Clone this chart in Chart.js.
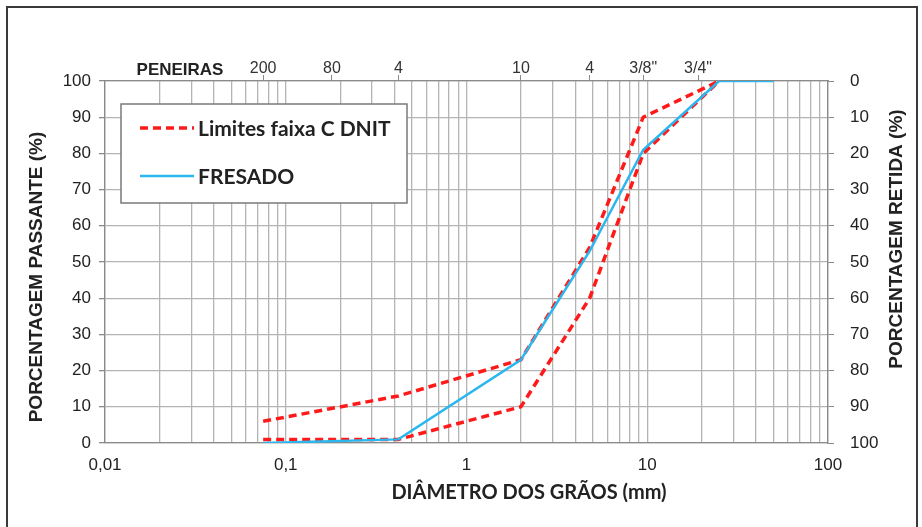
<!DOCTYPE html>
<html>
<head>
<meta charset="utf-8">
<script src="https://cdn.jsdelivr.net/npm/chart.js@4/dist/chart.umd.min.js"></script>
<style>
  html, body { margin: 0; padding: 0; background: #fff; }
  canvas { display: block; }
</style>
</head>
<body>
<canvas id="curva" width="922" height="527"></canvas>
<script>
// Peneiras (topo)
const sieveSizes = [0.075, 0.18, 0.42, 2.0, 4.8, 9.5, 19.1];
const sieveLabels = ['200', '80', '4', '10', '4', '3/8"', '3/4"'];

// Eixo x (log) - linhas de grade e rótulos
const gridValues = [
    0.01, 0.02, 0.03, 0.04, 0.05, 0.06, 0.07, 0.08, 0.09,
    0.1, 0.2, 0.3, 0.4, 0.5, 0.6, 0.7, 0.8, 0.9,
    1, 2, 3, 4, 5, 6, 7, 8, 9,
    10, 20, 30, 40, 50, 60, 70, 80, 90, 100
];
const decadeValues = [0.01, 0.1, 1, 10, 100];
const decadeLabels = ['0,01', '0,1', '1', '10', '100'];

// Limites faixa C DNIT
const limitX = [0.075, 0.42, 2.0, 4.8, 9.5, 25];
const limitUpper = [6, 13, 23, 54, 90, 100];
const limitLower = [1, 1, 10, 40, 80, 100];

// FRESADO
const fresadoX = [0.075, 0.42, 2.0, 4.8, 9.5, 25, 50];
const fresadoY = [0, 1, 23, 53, 81, 100, 100];

const RED = '#ff1a1a';
const BLUE = '#2bb7ee';
const GRID = '#b4b4b4';
const AXIS = '#8a8a8a';
const TEXT = '#222';
const ARIAL = '"Liberation Sans", Arial, sans-serif';

function toPoints(xs, ys) {
    return xs.map((x, i) => ({ x: x, y: ys[i] }));
}

// Fundo, moldura, títulos e legenda
const decorPlugin = {
    id: 'decor',
    beforeDraw(chart) {
        const ctx = chart.ctx;
        ctx.save();
        ctx.fillStyle = '#fff';
        ctx.fillRect(0, 0, chart.width, chart.height);
        ctx.strokeStyle = '#3a3a3a';
        ctx.lineWidth = 2;
        ctx.strokeRect(7, 7, 910, 540);
        ctx.restore();
    },
    afterDraw(chart) {
        const ctx = chart.ctx;
        ctx.save();
        ctx.fillStyle = TEXT;
        ctx.textAlign = 'center';
        ctx.textBaseline = 'middle';

        // PENEIRAS
        ctx.font = 'bold 17px ' + ARIAL;
        ctx.fillText('PENEIRAS', 180, 70);

        // título eixo x
        ctx.font = 'bold 20px Lato, sans-serif';
        ctx.fillText('DIÂMETRO DOS GRÃOS (mm)', 529, 493);

        // títulos eixos y
        ctx.font = 'bold 19px ' + ARIAL;
        ctx.save();
        ctx.translate(37, 277);
        ctx.rotate(-Math.PI / 2);
        ctx.fillText('PORCENTAGEM PASSANTE (%)', 0, 0);
        ctx.restore();
        ctx.save();
        ctx.translate(897, 239);
        ctx.rotate(-Math.PI / 2);
        ctx.fillText('PORCENTAGEM RETIDA (%)', 0, 0);
        ctx.restore();

        // legenda
        const bx = 121, by = 104, bw = 286, bh = 99;
        ctx.fillStyle = '#fff';
        ctx.fillRect(bx, by, bw, bh);
        ctx.strokeStyle = '#7a7a7a';
        ctx.lineWidth = 1.5;
        ctx.strokeRect(bx, by, bw, bh);

        const items = [chart.data.datasets[0], chart.data.datasets[2]];
        const rows = [128, 176];
        items.forEach((ds, i) => {
            ctx.beginPath();
            ctx.strokeStyle = ds.borderColor;
            ctx.lineWidth = ds.borderWidth;
            ctx.setLineDash(ds.borderDash || []);
            ctx.moveTo(140, rows[i]);
            ctx.lineTo(194, rows[i]);
            ctx.stroke();
            ctx.setLineDash([]);
            ctx.fillStyle = TEXT;
            ctx.textAlign = 'left';
            ctx.font = 'bold 21px Lato, sans-serif';
            ctx.fillText(ds.label, 198, rows[i] + 1);
        });
        ctx.restore();
    }
};

const ctx = document.getElementById('curva').getContext('2d');
new Chart(ctx, {
    type: 'scatter',
    data: {
        datasets: [{
            label: 'Limites faixa C DNIT',
            data: toPoints(limitX, limitUpper),
            showLine: true,
            borderColor: RED,
            borderWidth: 3.5,
            borderDash: [8, 5],
            pointRadius: 0,
            order: 1
        }, {
            label: 'Limites faixa C DNIT',
            data: toPoints(limitX, limitLower),
            showLine: true,
            borderColor: RED,
            borderWidth: 3.5,
            borderDash: [8, 5],
            pointRadius: 0,
            order: 1
        }, {
            label: 'FRESADO',
            data: toPoints(fresadoX, fresadoY),
            showLine: true,
            borderColor: BLUE,
            borderWidth: 2.5,
            pointRadius: 0,
            order: 0
        }]
    },
    options: {
        responsive: false,
        animation: false,
        layout: { padding: 0 },
        plugins: {
            legend: { display: false },
            tooltip: { enabled: false }
        },
        scales: {
            x: {
                type: 'logarithmic',
                position: 'bottom',
                min: 0.01,
                max: 100,
                afterBuildTicks: scale => {
                    scale.ticks = gridValues.map(v => ({ value: v }));
                },
                afterFit: scale => { scale.height = 84; },
                grid: { color: GRID, lineWidth: 1.3, drawTicks: false },
                border: { color: AXIS, width: 1.3 },
                ticks: {
                    autoSkip: false,
                    maxRotation: 0,
                    padding: 12,
                    color: TEXT,
                    font: { family: ARIAL, size: 17 },
                    callback: value => {
                        const i = decadeValues.indexOf(value);
                        return i >= 0 ? decadeLabels[i] : '';
                    }
                }
            },
            x2: {
                type: 'logarithmic',
                position: 'top',
                min: 0.01,
                max: 100,
                afterBuildTicks: scale => {
                    scale.ticks = sieveSizes.map(v => ({ value: v }));
                },
                afterFit: scale => { scale.height = 81; },
                grid: { drawOnChartArea: false, tickLength: 6, color: AXIS },
                border: { color: AXIS, width: 1.3 },
                ticks: {
                    autoSkip: false,
                    maxRotation: 0,
                    padding: -3,
                    color: '#333',
                    font: { family: ARIAL, size: 16 },
                    callback: (value, index) => sieveLabels[index]
                }
            },
            y: {
                position: 'left',
                min: 0,
                max: 100,
                afterFit: scale => { scale.width = 105; },
                grid: {
                    color: c => (c.tick && c.tick.value % 10 === 0) ? GRID : 'rgba(0,0,0,0)',
                    lineWidth: 1.3,
                    tickColor: AXIS,
                    tickLength: 6
                },
                border: { color: AXIS, width: 1.3 },
                ticks: {
                    stepSize: 5,
                    padding: 8,
                    color: TEXT,
                    font: { family: ARIAL, size: 17 },
                    callback: v => (v % 10 === 0 ? v : '')
                }
            },
            y2: {
                position: 'right',
                min: 0,
                max: 100,
                reverse: true,
                afterFit: scale => { scale.width = 94; },
                grid: { drawOnChartArea: false, tickLength: 6, color: AXIS },
                border: { color: AXIS, width: 1.3 },
                ticks: {
                    stepSize: 10,
                    padding: 16,
                    color: TEXT,
                    font: { family: ARIAL, size: 17 }
                }
            }
        }
    },
    plugins: [decorPlugin]
});
</script>
</body>
</html>
